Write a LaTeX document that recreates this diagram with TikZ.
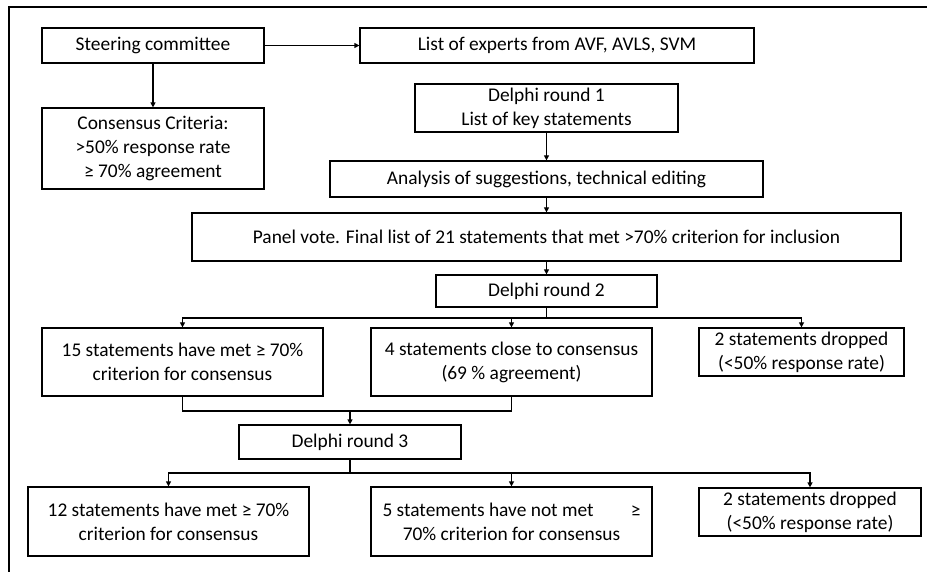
\documentclass[tikz,border=0pt]{standalone}
\usepackage{fontspec}
\setmainfont{Carlito}
\usepackage{tikz}
\usetikzlibrary{positioning,calc,arrows.meta}

\begin{document}
\begin{tikzpicture}[
    x=1pt, y=-1pt,
    every node/.style={font=\fontsize{19.4}{24}\selectfont},
    stage/.style={draw, line width=1.2pt, align=center, inner sep=0pt},
    link/.style={line width=1.2pt},
    flow/.style={link, -{Triangle[length=5pt,width=5pt]}}
]
    \useasboundingbox (0,0) rectangle (927,572);
    \draw[line width=1.2pt] (9,572) -- (9,7) -- (927,7);

    \node[stage, minimum width=222pt, minimum height=35pt] (steer) at (153,45.5) {Steering committee};
    \node[stage, minimum width=394pt, minimum height=35pt] (experts) at (557,45.5) {List of experts from AVF, AVLS, SVM};
    \node[stage, minimum width=222pt, minimum height=81pt] (criteria) at (153,148.5) {Consensus Criteria:\\>50\% response rate\\≥ 70\% agreement};
    \node[stage, minimum width=263pt, minimum height=48pt] (round1) at (546.5,108) {Delphi round 1\\List of key statements};
    \node[stage, minimum width=433pt, minimum height=36pt] (analysis) at (546.5,179) {Analysis of suggestions, technical editing};
    \node[stage, minimum width=709pt, minimum height=48pt] (panel) at (546.5,237) {Panel vote. Final list of 21 statements that met >70\% criterion for inclusion};
    \node[stage, minimum width=221pt, minimum height=32pt] (round2) at (546.5,291) {Delphi round 2};
    \node[stage, minimum width=281pt, minimum height=68pt] (met2) at (182.5,362) {15 statements have met ≥ 70\%\\criterion for consensus};
    \node[stage, minimum width=281pt, minimum height=68pt] (close2) at (511.5,362) {4 statements close to consensus\\(69 \% agreement)};
    \node[stage, minimum width=205pt, minimum height=48pt] (drop2) at (801.5,352) {2 statements dropped\\(<50\% response rate)};
    \node[stage, minimum width=222pt, minimum height=34pt] (round3) at (350,442) {Delphi round 3};
    \node[stage, minimum width=281pt, minimum height=69pt] (met3) at (168.5,521.5) {12 statements have met ≥ 70\%\\criterion for consensus};
    \node[stage, minimum width=281pt, minimum height=69pt] (notmet3) at (511.5,521.5) {\makebox[258pt]{5 statements have not met\hfill ≥}\\70\% criterion for consensus};
    \node[stage, minimum width=222pt, minimum height=48pt] (drop3) at (810,512) {2 statements dropped\\(<50\% response rate)};

    \coordinate (split2) at (546.5,318);
    \coordinate (merge) at (350,411);
    \coordinate (split3) at (350,473);

    \draw[flow] (steer) -- (experts);
    \draw[flow] (steer) -- (criteria);
    \draw[flow] (round1) -- (analysis);
    \draw[flow] (analysis) -- (panel);
    \draw[flow] (panel) -- (round2);
    \draw[link] (round2) -- (split2);
    \draw[flow] (split2) -| (met2);
    \draw[flow] (split2) -| (close2);
    \draw[flow] (split2) -| (drop2);
    \draw[link] (met2.south) |- (merge) -| (close2.south);
    \draw[flow] (merge) -- (round3);
    \draw[link] (round3) -- (split3);
    \draw[flow] (split3) -| (met3);
    \draw[flow] (split3) -| (notmet3);
    \draw[flow] (split3) -| (drop3);
\end{tikzpicture}
\end{document}
